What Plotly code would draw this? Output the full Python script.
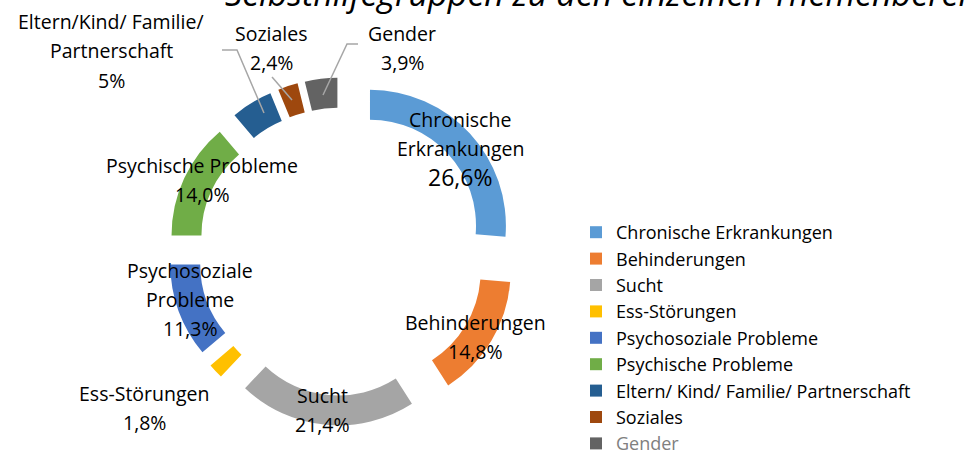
import plotly.graph_objects as go

W, H = 966, 450

# ---------------- data ----------------
categories = ["Chronische Erkrankungen", "Behinderungen", "Sucht", "Ess-Störungen",
              "Psychosoziale Probleme", "Psychische Probleme",
              "Eltern/ Kind/ Familie/ Partnerschaft", "Soziales", "Gender"]
values = [26.6, 14.8, 21.4, 1.8, 11.3, 14.0, 5.0, 2.4, 3.9]
value_labels = ["26,6%", "14,8%", "21,4%", "1,8%", "11,3%", "14,0%", "5%", "2,4%", "3,9%"]
label_names = [["Chronische", "Erkrankungen"], ["Behinderungen"], ["Sucht"], ["Ess-Störungen"],
               ["Psychosoziale", "Probleme"], ["Psychische Probleme"],
               ["Eltern/Kind/ Familie/", "Partnerschaft"], ["Soziales"], ["Gender"]]
title_text = "Selbsthilfegruppen zu den einzelnen Themenbereichen"

# ---------------- styles / layout positions ----------------
colors = ["#5B9BD5", "#ED7D31", "#A5A5A5", "#FFC000", "#4472C4",
          "#70AD47", "#255E91", "#9E480E", "#636363"]
FONT = "Open Sans"
# label block positions (center x px, first line center y px)
label_pos = [(460, 119), (475, 322), (322, 395), (144, 393), (190, 270),
             (202, 165), (111, 22), (271, 33), (402, 33)]
LINE_GAP = 29

def px(x):
    return x / W

def py(y):
    return 1 - y / H

legend_labels = [c if c != "Gender" else "<span style='color:#808080'>Gender</span>"
                 for c in categories]

fig = go.Figure(go.Pie(
    labels=legend_labels,
    values=values,
    sort=False,
    direction="clockwise",
    rotation=0,
    hole=0.78,
    pull=[0.28] * len(values),
    marker=dict(colors=colors, line=dict(color="white", width=0)),
    textinfo="none",
    hoverinfo="label+percent",
    domain=dict(x=[px(168), px(516)], y=[py(425.5), py(77.5)]),
))

annotations = []
for i, (lines, pct) in enumerate(zip(label_names, value_labels)):
    x0, y0 = label_pos[i]
    all_lines = lines + [pct]
    for j, t in enumerate(all_lines):
        size = 19.5
        if i == 0 and j == len(all_lines) - 1:
            size = 23
        annotations.append(dict(
            x=px(x0), y=py(y0 + j * LINE_GAP), xref="paper", yref="paper",
            text=t, showarrow=False, xanchor="center", yanchor="middle",
            font=dict(family=FONT, size=size, color="#000000")))

annotations.append(dict(
    x=px(223), y=py(18.5), xref="paper", yref="paper", text="<i>" + title_text + "</i>",
    showarrow=False, xanchor="left", yanchor="bottom",
    font=dict(family=FONT, size=34, color="#000000")))

# leader lines (pixel paths)
leaders = [
    [(222, 50), (237, 50), (264, 113)],
    [(272, 77), (292, 100)],
    [(358, 44), (347, 44), (323, 95)],
]
shapes = []
for pts in leaders:
    path = "M " + " L ".join(f"{px(x)},{py(y)}" for x, y in pts)
    shapes.append(dict(type="path", path=path, xref="paper", yref="paper",
                       line=dict(color="#A6A6A6", width=1.5)))

fig.update_layout(
    width=W, height=H,
    margin=dict(l=0, r=0, t=0, b=0, autoexpand=False),
    paper_bgcolor="white", plot_bgcolor="white",
    font=dict(family=FONT, size=18, color="#000000"),
    annotations=annotations,
    shapes=shapes,
    showlegend=True,
    legend=dict(x=px(576), y=py(214), xanchor="left", yanchor="top",
                font=dict(family=FONT, size=18, color="#000000"),
                bgcolor="rgba(0,0,0,0)", itemwidth=30, traceorder="normal"),
)

fig.write_html("out.html", config={"displayModeBar": False},
               post_script="document.body.style.margin='0';document.body.style.overflow='hidden';")
